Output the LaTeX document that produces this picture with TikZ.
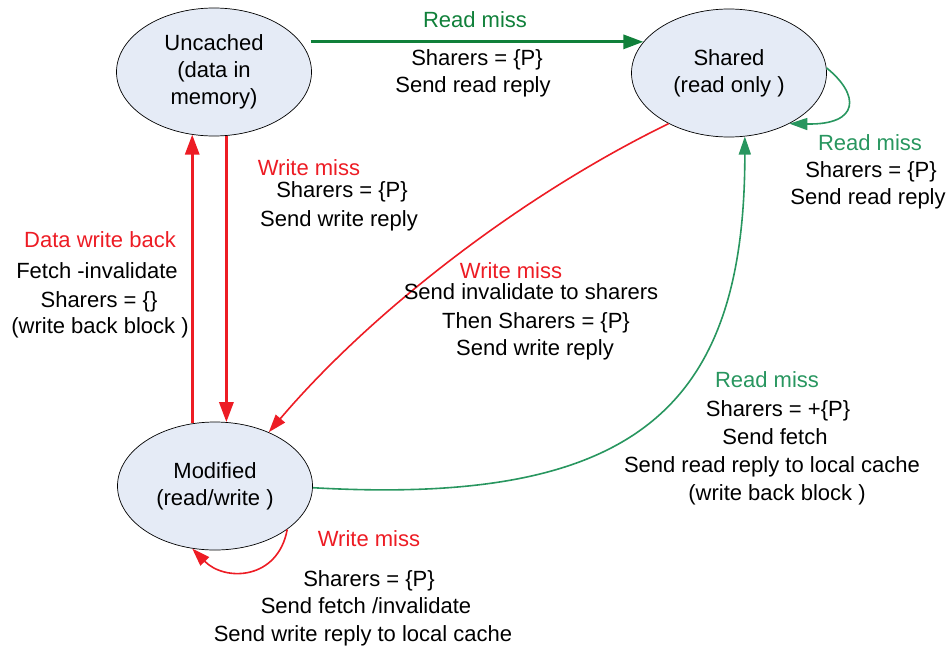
\documentclass[tikz,border=0pt]{standalone}
\usepackage{fontspec}
\setmainfont{Liberation Sans}
\usetikzlibrary{arrows.meta,shapes.geometric,calc}
\definecolor{rd}{RGB}{237,28,36}
\definecolor{gk}{RGB}{16,128,58}
\definecolor{gn}{RGB}{40,150,95}
\definecolor{ef}{RGB}{229,235,246}
\begin{document}
\begin{tikzpicture}[x=1pt,y=-1pt,
  state/.style={ellipse,draw=black,line width=0.7pt,fill=ef,minimum width=195pt,minimum height=128pt,inner sep=0pt,align=center,font=\fontsize{22}{27}\selectfont},
  tx/.style={anchor=base,inner sep=0pt,font=\fontsize{22}{27}\selectfont},
  thk/.style={line width=3pt,-{Triangle[length=20pt,width=14pt]}},
  thn/.style={line width=1.6pt,-{Triangle[length=18pt,width=12pt]}}
]
\useasboundingbox (0,0) rectangle (950,651);
\node[state] (unc) at (214,72) {Uncached\\(data in\\memory)};
\node[state] (sh) at (729,73) {Shared\\(read only )};
\node[state] (mod) at (215,486) {Modified\\(read/write )};

% connectors
\draw[thk,gk] ($(unc.17 |- sh.160)+(8,0)$) -- (sh.160);
\draw[thk,rd] (mod.110) -- (mod.110 |- unc.250);
\draw[thk,rd] (unc.281) -- (unc.281 |- mod.79);
\draw[thn,gn] (sh.3) .. controls (860,95) and (860,125) .. (sh.320);
\draw[thn,rd] (sh.220) .. controls (520,196) and (370,313) .. (mod.45);
\draw[thn,gn] (mod.-1) .. controls (633,506) and (745,410) .. (sh.284);
\draw[thn,rd] (mod.329) .. controls (278,580) and (225,582) .. (mod.250);

% labels
\node[tx,gk] (l1a) at (475,27) {Read miss};
\node[tx] (l1b) at (477,65) {Sharers = \{P\}};
\node[tx] (l1c) at (473,92) {Send read reply};

\node[tx,gn] (l2a) at (870,150) {Read miss};
\node[tx] (l2b) at (871,177) {Sharers = \{P\}};
\node[tx] (l2c) at (868,204) {Send read reply};

\node[tx,rd] (l3a) at (309,175) {Write miss};
\node[tx] (l3b) at (342,197) {Sharers = \{P\}};
\node[tx] (l3c) at (339,226) {Send write reply};

\node[tx,rd] (l4a) at (100,247) {Data write back};
\node[tx] (l4b) at (97,278) {Fetch -invalidate};
\node[tx] (l4c) at (99,307) {Sharers = \{\}};
\node[tx] (l4d) at (100,333) {(write back block )};

\node[tx,rd] (l5a) at (511,278) {Write miss};
\node[tx] (l5b) at (531,299) {Send invalidate to sharers};
\node[tx] (l5c) at (536,328) {Then Sharers = \{P\}};
\node[tx] (l5d) at (535,355) {Send write reply};

\node[tx,gn] (l6a) at (767,387) {Read miss};
\node[tx] (l6b) at (778,416) {Sharers = +\{P\}};
\node[tx] (l6c) at (775,444) {Send fetch};
\node[tx] (l6d) at (772,472) {Send read reply to local cache};
\node[tx] (l6e) at (777,500) {(write back block )};

\node[tx,rd] (l7a) at (369,546) {Write miss};
\node[tx] (l7b) at (369,586) {Sharers = \{P\}};
\node[tx] (l7c) at (366,613) {Send fetch /invalidate};
\node[tx] (l7d) at (363,641) {Send write reply to local cache};
\end{tikzpicture}
\end{document}
